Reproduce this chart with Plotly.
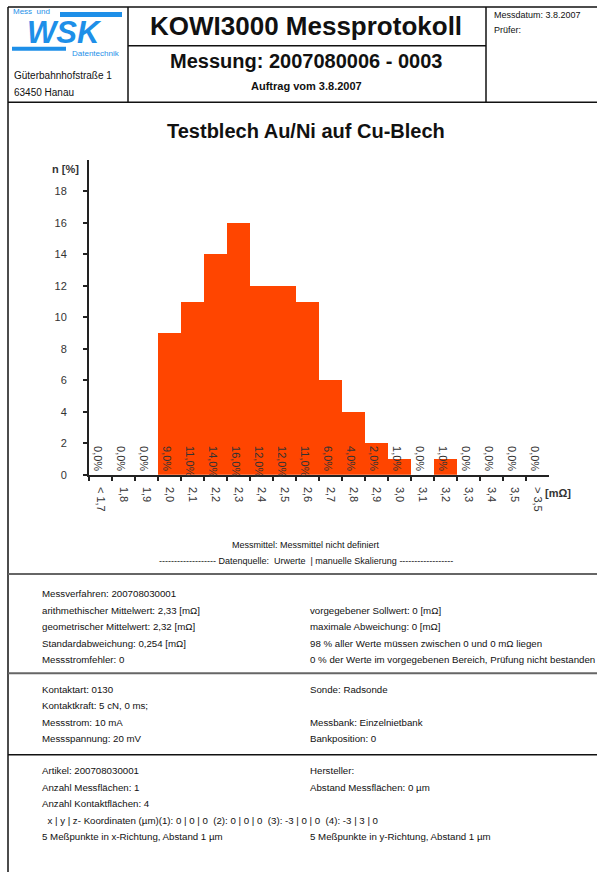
import plotly.graph_objects as go

# ---- histogram data ----
bins = ["< 1,7", "1,8", "1,9", "2,0", "2,1", "2,2", "2,3", "2,4", "2,5", "2,6",
        "2,7", "2,8", "2,9", "3,0", "3,1", "3,2", "3,3", "3,4", "3,5", "> 3,5"]
share_pct = [0, 0, 0, 9, 11, 14, 16, 12, 12, 11, 6, 4, 2, 1, 0, 1, 0, 0, 0, 0]
y_ticks = [0, 2, 4, 6, 8, 10, 12, 14, 16, 18]

# ---- report text ----
header_title = "KOWI3000 Messprotokoll"
header_measure = "Messung: 2007080006 - 0003"
header_order = "Auftrag vom 3.8.2007"
address = ["Güterbahnhofstraße 1", "63450 Hanau"]
date_info = ["Messdatum: 3.8.2007", "Prüfer:"]
chart_title = "Testblech Au/Ni auf Cu-Blech"
source_lines = ["Messmittel: Messmittel nicht definiert",
                "------------------- Datenquelle:  Urwerte  | manuelle Skalierung ------------------"]

stats_left = ["Messverfahren: 200708030001",
              "arithmethischer Mittelwert: 2,33 [mΩ]",
              "geometrischer Mittelwert: 2,32 [mΩ]",
              "Standardabweichung: 0,254 [mΩ]",
              "Messstromfehler: 0"]
stats_right = ["",
               "vorgegebener Sollwert: 0 [mΩ]",
               "maximale Abweichung: 0 [mΩ]",
               "98 % aller Werte müssen zwischen 0 und 0 mΩ liegen",
               "0 % der Werte im vorgegebenen Bereich, Prüfung nicht bestanden"]
contact_left = ["Kontaktart: 0130", "Kontaktkraft: 5 cN, 0 ms;",
                "Messstrom: 10 mA", "Messspannung: 20 mV"]
contact_right = ["Sonde: Radsonde", "", "Messbank: Einzelnietbank", "Bankposition: 0"]
article_left = ["Artikel: 200708030001", "Anzahl Messflächen: 1",
                "Anzahl Kontaktflächen: 4",
                "  x | y | z- Koordinaten (µm)(1): 0 | 0 | 0  (2): 0 | 0 | 0  (3): -3 | 0 | 0  (4): -3 | 3 | 0",
                "5 Meßpunkte in x-Richtung, Abstand 1 µm"]
article_right = ["Hersteller:", "Abstand Messflächen: 0 µm", "", "",
                 "5 Meßpunkte in y-Richtung, Abstand 1 µm"]

W, H = 597, 878
FONT = "Arial, Liberation Sans, sans-serif"
BAR = "#FF4500"
LOGO = "#1E8FE8"


def px(x):
    return x / W


def py(y):
    return 1 - y / H


value_labels = [f"{v:.1f}".replace(".", ",") + "%" for v in share_pct]

fig = go.Figure(go.Bar(x=bins, y=share_pct, marker=dict(color=BAR, line=dict(width=0)),
                       hoverinfo="x+y"))

# rotated percentage labels at the foot of each bar
annotations = []
for cat, lab in zip(bins, value_labels):
    annotations.append(dict(x=cat, y=1.95, xref="x", yref="y", text=lab, showarrow=False,
                            textangle=90, yanchor="top", xanchor="center", xshift=-2,
                            font=dict(family=FONT, size=11, color="#333")))


def txt(x, y, s, size=10, bold=False, color="#111", anchor="left", italic=False):
    t = f"<b>{s}</b>" if bold else s
    if italic:
        t = f"<i>{t}</i>"
    annotations.append(dict(x=px(x), y=py(y), xref="paper", yref="paper", text=t,
                            showarrow=False, xanchor=anchor, yanchor="middle",
                            font=dict(family=FONT, size=size, color=color)))


# header
txt(306, 26, header_title, size=26, bold=True, anchor="center")
txt(306, 61, header_measure, size=20, bold=True, anchor="center")
txt(306, 87, header_order, size=11, bold=True, anchor="center")
for i, s in enumerate(address):
    txt(12, 76 + 17 * i, s, size=10)
for i, s in enumerate(date_info):
    txt(492, 15 + 15 * i, s, size=9)

# logo
txt(11, 12, "Mess  und", size=8, color=LOGO)
txt(122, 54, "Datentechnik", size=8, color=LOGO, anchor="right")
txt(64, 33, "WSK", size=31, bold=True, italic=True, color=LOGO, anchor="center")

# chart captions
txt(306, 132, chart_title, size=20, bold=True, anchor="center")
txt(65, 170, "n [%]", size=11, bold=True, anchor="center", color="#333")
txt(558, 496, "[mΩ]", size=11, bold=True, anchor="center", color="#333")
for i, s in enumerate(source_lines):
    txt(306, 549 + 16 * i, s, size=9, anchor="center")

# info blocks
for block, top in ((zip(stats_left, stats_right), 598),
                   (zip(contact_left, contact_right), 694),
                   (zip(article_left, article_right), 776)):
    for i, (l, r) in enumerate(block):
        if l:
            txt(40, top + 16.6 * i, l, size=9.7)
        if r:
            txt(308, top + 16.6 * i, r, size=9.7)

shapes = []


def line(x0, y0, x1, y1, color="#111", width=1.5):
    shapes.append(dict(type="line", xref="paper", yref="paper",
                       x0=px(x0), y0=py(y0), x1=px(x1), y1=py(y1),
                       line=dict(color=color, width=width)))


def rect(x0, y0, x1, y1, color):
    shapes.append(dict(type="rect", xref="paper", yref="paper",
                       x0=px(x0), y0=py(y0), x1=px(x1), y1=py(y1),
                       line=dict(width=0), fillcolor=color))


# frame
line(8, 7, 597, 7)
line(8, 7, 8, 878)
line(128, 7, 128, 103)
line(486, 7, 486, 103)
line(128, 46, 486, 46)
line(8, 103, 597, 103)
line(8, 578, 597, 578, color="#666", width=2)
line(8, 678, 597, 678, color="#666", width=2)
line(8, 760, 597, 760)
# logo bars
rect(60, 12, 122, 17, LOGO)
rect(12, 47, 66, 51, LOGO)

fig.update_layout(
    width=W, height=H,
    margin=dict(l=0, r=0, t=0, b=0),
    paper_bgcolor="white", plot_bgcolor="white",
    showlegend=False, bargap=0,
    font=dict(family=FONT, color="#222"),
    annotations=annotations, shapes=shapes,
    xaxis=dict(domain=[px(89), px(549)], type="category", categoryorder="array",
               categoryarray=bins, tickson="boundaries", ticks="outside", ticklen=4,
               tickwidth=2, tickcolor="#222", showline=True, linewidth=2, linecolor="#222",
               tickangle=90, ticklabelstandoff=8,
               tickfont=dict(family=FONT, size=11, color="#333"),
               showgrid=False, zeroline=False, fixedrange=True),
    yaxis=dict(domain=[py(478), py(161)], range=[0, 20], tickvals=y_ticks,
               ticks="outside", ticklen=4, tickwidth=2, tickcolor="#222",
               showline=True, linewidth=2, linecolor="#222", ticklabelstandoff=14,
               tickfont=dict(family=FONT, size=11, color="#333"),
               showgrid=False, zeroline=False, fixedrange=True),
)

fig.write_html("out.html")
